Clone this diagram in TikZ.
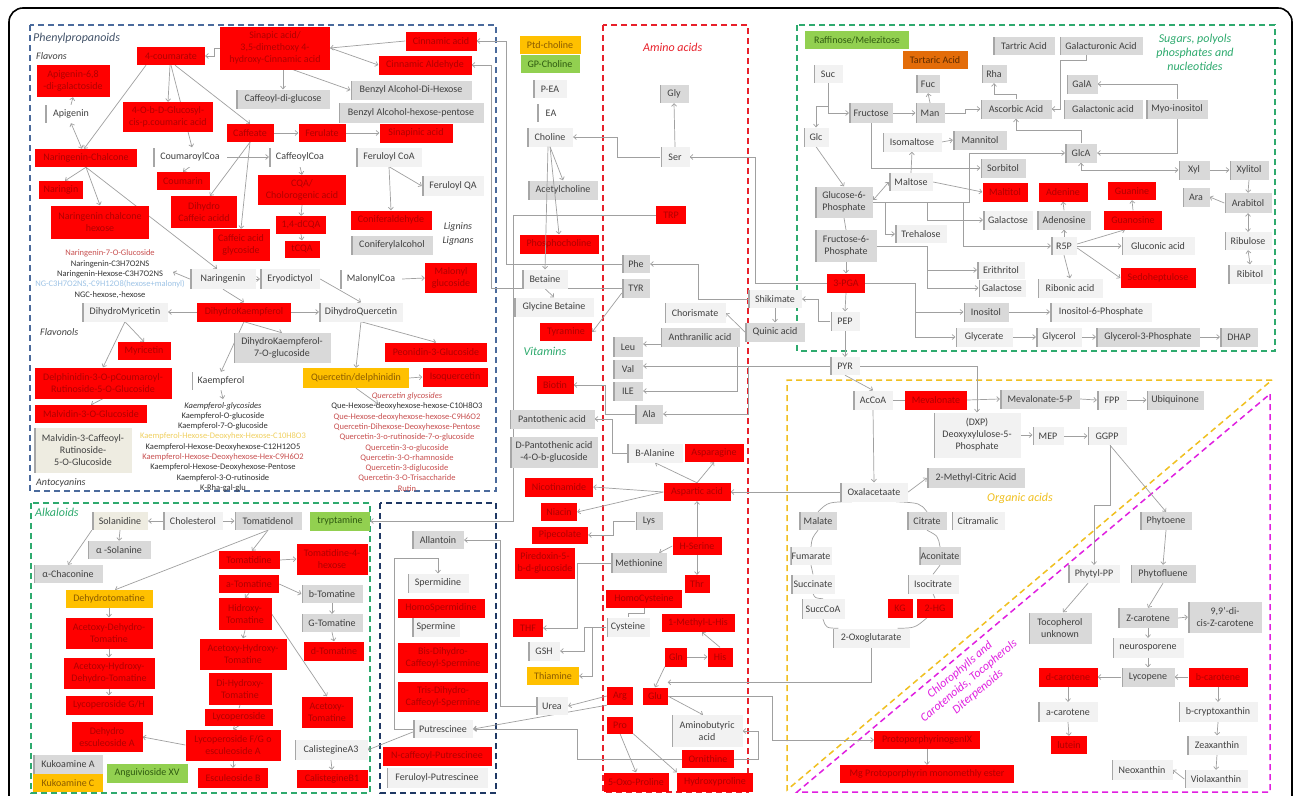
\documentclass[tikz,border=0pt]{standalone}
\usepackage{fontspec}
\setmainfont{Carlito}
\usetikzlibrary{arrows.meta}
\definecolor{cred}{HTML}{FF0000}
\definecolor{ctred}{HTML}{B00000}
\definecolor{cgray}{HTML}{D9D9D9}
\definecolor{clight}{HTML}{F2F2F2}
\definecolor{cbar}{HTML}{A6A6A6}
\definecolor{ctxt}{HTML}{404040}
\definecolor{cyel}{HTML}{FFC000}
\definecolor{ctyel}{HTML}{8A5A00}
\definecolor{cgrn}{HTML}{92D050}
\definecolor{ctgrn}{HTML}{2E5A10}
\definecolor{corg}{HTML}{E36C09}
\definecolor{ctorg}{HTML}{5A2A00}
\definecolor{cbeige}{HTML}{EEECE1}
\definecolor{cline}{HTML}{A0A0A0}
\definecolor{bphen}{HTML}{4A6A9C}
\definecolor{bnavy}{HTML}{1F3864}
\definecolor{bgreen}{HTML}{2EAA6E}
\definecolor{bredd}{HTML}{E8202A}
\definecolor{byel}{HTML}{F0C020}
\definecolor{bmag}{HTML}{E020E0}
\definecolor{lred}{HTML}{C85050}
\definecolor{lblue}{HTML}{9DC3E6}
\definecolor{lyel}{HTML}{F0D060}
\definecolor{ldark}{HTML}{333333}
\definecolor{lphen}{HTML}{44546A}
\pgfdeclarelayer{bg}
\pgfsetlayers{bg,main}
\newcommand{\nf}{\fontsize{10}{12}\selectfont}
\newcommand{\lf}{\fontsize{8.5}{10.3}\selectfont}
\newcommand{\secfont}{\fontsize{12}{14}\selectfont\itshape}
\newcommand{\subfont}{\fontsize{10}{12}\selectfont\itshape}
\newcommand{\mynode}[6]{\node[#1,minimum width=#4pt,minimum height=#5pt] (#2) at (#3) {#6};}
\tikzset{
  base/.style={rectangle, inner sep=1.2pt, align=center, font=\nf},
  leftbar/.style={path picture={\fill[cbar] (path picture bounding box.south west) rectangle ([xshift=1.8pt]path picture bounding box.north west);}},
  rb/.style={base, fill=cred, text=ctred},
  gb/.style={base, fill=cgray, text=ctxt, leftbar},
  lb/.style={base, fill=clight, text=ctxt, leftbar},
  wb/.style={base, fill=white, text=ctxt, leftbar},
  yb/.style={base, fill=cyel, text=ctyel},
  grb/.style={base, fill=cgrn, text=ctgrn},
  ob/.style={base, fill=corg, text=ctorg},
  bb/.style={base, fill=cbeige, text=ctxt, leftbar},
  arr/.style={draw=cline, line width=0.7pt, -{Straight Barb[length=2.6pt,width=5pt]}},
  darr/.style={draw=cline, line width=0.7pt, {Straight Barb[length=2.6pt,width=5pt]}-{Straight Barb[length=2.6pt,width=5pt]}},
  ln/.style={draw=cline, line width=0.7pt},
  dbox/.style={dash pattern=on 6pt off 4pt, line width=1.5pt},
  lab/.style={inner sep=0pt},
}
\begin{document}
\begin{tikzpicture}[x=1pt,y=-1pt]
\useasboundingbox (0,0) rectangle (1295,795);
\clip (0,0) rectangle (1295,795);
\draw[line width=1.6pt, rounded corners=14pt] (9,8) rectangle (1292,820);

% ---------- Phenylpropanoids ----------
\mynode{rb}{coum}{171,56}{68}{18}{4-coumarate}
\mynode{rb}{sinap}{275,48}{110}{43}{Sinapic acid/\\3,5-dimethoxy 4-\\hydroxy-Cinnamic acid}
\mynode{rb}{apig68}{73,81}{73}{32}{Apigenin-6,8\\-di-galactoside}
\mynode{wb}{apig}{71,114}{52}{18}{Apigenin}
\mynode{gb}{cdg}{283,99}{94}{19}{Caffeoyl-di-glucose}
\mynode{rb}{glucosyl}{168,117}{90}{30}{4-O-b-D-Glucosyl-\\cis-p.coumaric acid}
\mynode{rb}{caffeate}{250,133}{47}{18}{Caffeate}
\mynode{rb}{ferulate}{322,133}{47}{18}{Ferulate}
\mynode{rb}{narchal}{86,158}{102}{18}{Naringenin-Chalcone}
\mynode{wb}{coumcoa}{190,157}{74}{19}{CoumaroylCoa}
\mynode{wb}{caffcoa}{300,157}{62}{19}{CaffeoylCoa}
\mynode{rb}{coumarin}{183,181}{53}{18}{Coumarin}
\mynode{rb}{naringin}{61,190}{44}{18}{Naringin}
\mynode{rb}{cqa}{302,190}{88}{30}{CQA/\\Cholorogenic acid}
\mynode{rb}{dihcaf}{204,212}{66}{32}{Dihydro\\Caffeic acidd}
\mynode{rb}{narchalhex}{100,222}{98}{33}{Naringenin chalcone\\hexose}
\mynode{rb}{dcqa}{301,225}{50}{18}{1,4-dCQA}
\mynode{rb}{cafgly}{241,245}{57}{32}{Caffeic acid\\glycoside}
\mynode{rb}{tcqa}{302,249}{35}{17}{tCQA}
\mynode{rb}{cinacid}{441,41}{71}{19}{Cinnamic acid}
\mynode{rb}{cinald}{425,65}{93}{19}{Cinnamic Aldehyde}
\mynode{gb}{benzdh}{411,90}{121}{19}{Benzyl Alcohol-Di-Hexose}
\mynode{gb}{benzhp}{411,113}{145}{20}{Benzyl Alcohol-hexose-pentose}
\mynode{rb}{sinapinic}{416,133}{73}{19}{Sinapinic acid}
\mynode{lb}{ferucoa}{389,157}{66}{19}{Feruloyl CoA}
\mynode{lb}{feruqa}{453,186}{62}{20}{Feruloyl QA}
\mynode{rb}{conald}{391,220}{81}{19}{Coniferaldehyde}
\mynode{gb}{conalc}{392,245}{82}{19}{Coniferylalcohol}
\mynode{lb}{naringenin}{223,279}{66}{20}{Naringenin}
\mynode{lb}{eryo}{290,279}{60}{20}{Eryodictyol}
\mynode{wb}{malcoa}{371,279}{62}{19}{MalonylCoa}
\mynode{rb}{malglu}{451,278}{52}{30}{Malonyl\\glucoside}
\mynode{lb}{dhmyr}{125,312}{86}{19}{DihydroMyricetin}
\mynode{rb}{dhkae}{244,312}{94}{19}{DihydroKaempferol}
\mynode{lb}{dhque}{361,312}{84}{19}{DihydroQuercetin}
\mynode{rb}{myric}{144,351}{53}{18}{Myricetin}
\mynode{gb}{dhkae7}{282,348}{97}{30}{DihydroKaempferol-\\7-O-glucoside}
\mynode{rb}{peon}{436,352}{102}{19}{Peonidin-3-Glucoside}
\mynode{rb}{delph}{103,383}{137}{31}{Delphinidin-3-O-pCoumaroyl-\\Rutinoside-5-O-Glucoside}
\mynode{wb}{kaemp}{221,381}{59}{18}{Kaempferol}
\mynode{yb}{querc}{356,378}{106}{20}{Quercetin/delphinidin}
\mynode{rb}{isoq}{455,377}{65}{19}{Isoquercetin}
\mynode{rb}{malv}{91,414}{112}{18}{Malvidin-3-O-Glucoside}
\mynode{bb}{malvcaf}{83,450}{98}{45}{Malvidin-3-Caffeoyl-\\Rutinoside-\\5-O-Glucoside}

\node[font=\lf, align=center, text=ldark] (narlist) at (110,274) {{\color{lred}Naringenin-7-O-Glucoside}\\Naringenin-C3H7O2NS\\Naringenin-Hexose-C3H7O2NS\\{\color{lblue}NG-C3H7O2NS,-C9H12O8(hexose+malonyl)}\\NGC-hexose,-hexose};
\node[font=\lf, align=center, text=ldark] (kaelist) at (223,447) {\textit{Kaempferol-glycosides}\\Kaempferol-O-glucoside\\Kaempferol-7-O-glucoside\\{\color{lyel}Kaempferol-Hexose-Deoxyhex-Hexose-C10H8O3}\\Kaempferol-Hexose-Deoxyhexose-C12H12O5\\{\color{lred}Kaempferol-Hexose-Deoxyhexose-Hex-C9H6O2}\\Kaempferol-Hexose-Deoxyhexose-Pentose\\Kaempferol-3-O-rutinoside\\K-Rha-gal-glu};
\node[font=\lf, align=center, text=lred] (quelist) at (407,442) {\textit{Quercetin glycosides}\\{\color{ldark}Que-Hexose-deoxyhexose-hexose-C10H8O3}\\Que-Hexose-deoxyhexose-hexose-C9H6O2\\Quercetin-Dihexose-Deoxyhexose-Pentose\\Quercetin-3-o-rutinoside-7-o-glucoside\\Quercetin-3-o-glucoside\\Quercetin-3-O-rhamnoside\\Quercetin-3-diglucoside\\Quercetin-3-O-Trisaccharide\\Rutin};
\coordinate (narlistend) at (173,272);
\coordinate (kaemplist) at (223,399);
\coordinate (querclist) at (378,404);

% ---------- centre column ----------
\mynode{yb}{ptd}{550,45}{61}{18}{Ptd-choline}
\mynode{grb}{gpch}{550,64}{59}{18}{GP-Choline}
\mynode{lb}{pea}{550,89}{34}{18}{P-EA}
\mynode{wb}{ea}{551,113}{28}{18}{EA}
\mynode{lb}{choline}{550,137}{46}{19}{Choline}
\mynode{gb}{acetch}{563,190}{70}{19}{Acetylcholine}
\mynode{rb}{phosch}{559,244}{79}{19}{Phosphocholine}
\mynode{gb}{phe}{636,264}{28}{18}{Phe}
\mynode{lb}{betaine}{545,279}{46}{19}{Betaine}
\mynode{gb}{tyr}{636,288}{28}{19}{TYR}
\mynode{lb}{glybet}{554,307}{80}{19}{Glycine Betaine}
\mynode{rb}{tyramine}{566,332}{52}{18}{Tyramine}
\mynode{rb}{biotin}{555,385}{37}{18}{Biotin}
\mynode{gb}{panto}{552,419}{85}{19}{Pantothenic acid}
\mynode{gb}{dpanto}{554,452}{88}{31}{D-Pantothenic acid\\-4-O-b-glucoside}
\mynode{rb}{nicot}{559,487}{68}{19}{Nicotinamide}
\mynode{rb}{niacin}{559,512}{36}{18}{Niacin}
\mynode{rb}{pipec}{560,535}{56}{17}{Pipecolate}
\mynode{rb}{pired}{545,563}{60}{31}{Piredoxin-5-\\b-d-glucoside}
\mynode{rb}{thf}{528,628}{30}{18}{THF}
\mynode{lb}{gsh}{544,651}{32}{19}{GSH}
\mynode{yb}{thiam}{553,676}{52}{18}{Thiamine}
\mynode{lb}{urea}{552,706}{32}{18}{Urea}

% ---------- amino acids ----------
\mynode{gb}{gly}{674,94}{29}{18}{Gly}
\mynode{lb}{ser}{675,157}{29}{20}{Ser}
\mynode{rb}{trp}{671,215}{30}{18}{TRP}
\mynode{gb}{leu}{628,347}{30}{20}{Leu}
\mynode{gb}{val}{628,369}{30}{19}{Val}
\mynode{gb}{ile}{628,391}{30}{19}{ILE}
\mynode{gb}{ala}{649,414}{28}{19}{Ala}
\mynode{lb}{balan}{655,453}{56}{19}{B-Alanine}
\mynode{rb}{aspar}{714,453}{59}{18}{Asparagine}
\mynode{rb}{aspac}{697,492}{67}{18}{Aspartic acid}
\mynode{gb}{lys}{649,521}{27}{18}{Lys}
\mynode{rb}{hser}{697,546}{49}{18}{H-Serine}
\mynode{gb}{meth}{639,563}{56}{20}{Methionine}
\mynode{rb}{thr}{697,584}{25}{18}{Thr}
\mynode{rb}{homocys}{644,599}{76}{18}{HomoCysteine}
\mynode{lb}{cys}{628,627}{43}{19}{Cysteine}
\mynode{rb}{mhis}{698,623}{73}{18}{1-Methyl-L-His}
\mynode{rb}{gln}{676,657}{22}{19}{Gln}
\mynode{rb}{his}{720,657}{25}{19}{His}
\mynode{rb}{glu}{655,696}{25}{17}{Glu}
\mynode{rb}{arg}{620,696}{26}{18}{Arg}
\mynode{rb}{pro}{620,725}{26}{17}{Pro}
\mynode{lb}{gaba}{707,731}{71}{32}{Aminobutyric\\acid}
\mynode{rb}{orn}{708,759}{52}{18}{Ornithine}
\mynode{rb}{oxopro}{636,782}{65}{19}{5-Oxo-Proline}
\mynode{rb}{hypro}{715,782}{76}{19}{Hydroxyproline}

% ---------- shikimate / glycolysis ----------
\mynode{lb}{shik}{775,299}{54}{18}{Shikimate}
\mynode{lb}{chor}{695,313}{61}{20}{Chorismate}
\mynode{gb}{quinic}{775,332}{60}{19}{Quinic acid}
\mynode{gb}{anthr}{700,337}{79}{19}{Anthranilic acid}
\mynode{rb}{pga}{846,283}{38}{19}{3-PGA}
\mynode{lb}{pep}{845,321}{29}{19}{PEP}
\mynode{lb}{pyr}{845,366}{30}{18}{PYR}

% ---------- sugars ----------
\mynode{grb}{raff}{857,40}{104}{18}{Raffinose/Melezitose}
\mynode{ob}{tartaric}{935,60}{65}{18}{Tartaric Acid}
\mynode{lb}{suc}{828,74}{29}{18}{Suc}
\mynode{gb}{fuc}{928,84}{24}{18}{Fuc}
\mynode{gb}{fructose}{871,113}{44}{20}{Fructose}
\mynode{gb}{man}{930,113}{29}{20}{Man}
\mynode{lb}{glc}{816,137}{25}{19}{Glc}
\mynode{lb}{isomalt}{912,142}{59}{19}{Isomaltose}
\mynode{gb}{mannitol}{980,140}{54}{19}{Mannitol}
\mynode{lb}{maltose}{911,182}{44}{18}{Maltose}
\mynode{gb}{g6p}{844,202}{58}{31}{Glucose-6-\\Phosphate}
\mynode{lb}{trehal}{921,234}{52}{18}{Trehalose}
\mynode{gb}{f6p}{846,246}{62}{32}{Fructose-6-\\Phosphate}
\mynode{gb}{tartric}{1024,46}{62}{18}{Tartric Acid}
\mynode{gb}{galacturonic}{1101,46}{83}{18}{Galacturonic Acid}
\mynode{gb}{rha}{994,74}{25}{18}{Rha}
\mynode{gb}{gala}{1082,84}{31}{19}{GalA}
\mynode{gb}{ascorbic}{1016,109}{71}{19}{Ascorbic Acid}
\mynode{gb}{galactonic}{1103,109}{79}{19}{Galactonic acid}
\mynode{gb}{myo}{1177,109}{62}{19}{Myo-inositol}
\mynode{gb}{glca}{1081,153}{32}{19}{GlcA}
\mynode{gb}{sorbitol}{1003,168}{45}{19}{Sorbitol}
\mynode{gb}{xyl}{1194,170}{31}{19}{Xyl}
\mynode{gb}{xylitol}{1249,170}{39}{19}{Xylitol}
\mynode{rb}{maltitol}{1005,192}{45}{19}{Maltitol}
\mynode{rb}{adenine}{1063,192}{49}{19}{Adenine}
\mynode{rb}{guanine}{1132,191}{48}{18}{Guanine}
\mynode{gb}{ara}{1196,197}{27}{19}{Ara}
\mynode{gb}{arabitol}{1248,203}{47}{20}{Arabitol}
\mynode{lb}{galactose1}{1008,220}{50}{19}{Galactose}
\mynode{gb}{adenosine}{1064,220}{54}{19}{Adenosine}
\mynode{rb}{guanosine}{1133,220}{58}{19}{Guanosine}
\mynode{lb}{ribulose}{1248,241}{47}{18}{Ribulose}
\mynode{lb}{r5p}{1064,246}{26}{18}{R5P}
\mynode{lb}{gluconic}{1158,246}{73}{18}{Gluconic acid}
\mynode{lb}{erith}{1001,270}{48}{17}{Erithritol}
\mynode{rb}{sedo}{1158,278}{75}{20}{Sedoheptulose}
\mynode{lb}{ribitol}{1250,274}{44}{19}{Ribitol}
\mynode{lb}{galactose2}{1002,288}{47}{17}{Galactose}
\mynode{lb}{ribonic}{1070,288}{65}{19}{Ribonic acid}
\mynode{gb}{inositol}{986,312}{45}{19}{Inositol}
\mynode{lb}{ino6p}{1101,312}{102}{19}{Inositol-6-Phosphate}
\mynode{lb}{glycerate}{984,337}{57}{19}{Glycerate}
\mynode{lb}{glycerol}{1059,337}{46}{19}{Glycerol}
\mynode{gb}{g3p}{1148,337}{104}{19}{Glycerol-3-Phosphate}
\mynode{gb}{dhap}{1239,337}{38}{19}{DHAP}

% ---------- organic acids / terpenoids ----------
\mynode{lb}{accoa}{873,400}{40}{19}{AcCoA}
\mynode{rb}{meval}{936,400}{62}{19}{Mevalonate}
\mynode{gb}{meval5p}{1040,399}{80}{19}{Mevalonate-5-P}
\mynode{lb}{fpp}{1112,400}{30}{19}{FPP}
\mynode{gb}{ubiq}{1175,400}{57}{19}{Ubiquinone}
\mynode{lb}{dxp}{977,435}{87}{45}{(DXP)\\Deoxyxylulose-5-\\Phosphate}
\mynode{lb}{mep}{1048,436}{31}{18}{MEP}
\mynode{lb}{ggpp}{1107,436}{39}{18}{GGPP}
\mynode{gb}{mca}{976,478}{98}{20}{2-Methyl-Citric Acid}
\mynode{lb}{oxal}{874,492}{68}{19}{Oxalacetaate}
\mynode{gb}{malate}{818,521}{38}{18}{Malate}
\mynode{gb}{citrate}{927,521}{40}{18}{Citrate}
\mynode{lb}{citram}{978,521}{53}{18}{Citramalic}
\mynode{gb}{phytoene}{1166,521}{52}{18}{Phytoene}
\mynode{lb}{fumarate}{811,556}{39}{18}{Fumarate}
\mynode{gb}{aconitate}{940,556}{39}{18}{Aconitate}
\mynode{lb}{succinate}{813,584}{44}{19}{Succinate}
\mynode{lb}{isocit}{933,584}{51}{19}{Isocitrate}
\mynode{lb}{succcoa}{823,609}{43}{20}{SuccCoA}
\mynode{rb}{kg}{900,608}{25}{19}{KG}
\mynode{rb}{hg}{935,608}{36}{19}{2-HG}
\mynode{lb}{oxo}{871,638}{77}{19}{2-Oxoglutarate}
\mynode{lb}{phytylpp}{1094,574}{52}{18}{Phytyl-PP}
\mynode{gb}{phytofl}{1163,574}{65}{18}{Phytofluene}
\mynode{gb}{toco}{1060,628}{63}{31}{Tocopherol\\unknown}
\mynode{gb}{zcar}{1148,618}{60}{20}{Z-carotene}
\mynode{gb}{dicis}{1225,617}{74}{31}{9,9’-di-\\cis-Z-carotene}
\mynode{lb}{neuro}{1148,648}{71}{20}{neurosporene}
\mynode{rb}{dcar}{1068,677}{59}{19}{d-carotene}
\mynode{gb}{lycop}{1148,677}{53}{19}{Lycopene}
\mynode{rb}{bcar}{1218,677}{59}{19}{b-carotene}
\mynode{lb}{acar}{1068,712}{60}{20}{a-carotene}
\mynode{lb}{bcrypt}{1218,712}{79}{20}{b-cryptoxanthin}
\mynode{rb}{lutein}{1069,745}{36}{18}{lutein}
\mynode{lb}{zeax}{1217,745}{60}{19}{Zeaxanthin}
\mynode{lb}{neox}{1142,770}{61}{20}{Neoxanthin}
\mynode{lb}{violax}{1216,779}{63}{18}{Violaxanthin}
\mynode{rb}{protox}{927,740}{106}{18}{ProtoporphyrinogenIX}
\mynode{rb}{mgproto}{927,774}{174}{18}{Mg Protoporphyrin monomethly ester}

% ---------- alkaloids ----------
\mynode{bb}{solan}{120,521}{56}{18}{Solanidine}
\mynode{lb}{chol}{193,521}{60}{18}{Cholesterol}
\mynode{gb}{tomdnol}{268,521}{67}{18}{Tomatidenol}
\mynode{grb}{tryp}{340,521}{60}{19}{tryptamine}
\mynode{gb}{asolan}{119,550}{63}{18}{α -Solanine}
\mynode{gb}{achac}{68,574}{69}{18}{α-Chaconine}
\mynode{rb}{tomdine}{249,560}{61}{18}{Tomatidine}
\mynode{rb}{tom4h}{332,559}{71}{31}{Tomatidine-4-\\hexose}
\mynode{rb}{atom}{249,584}{60}{18}{a-Tomatine}
\mynode{gb}{btom}{332,594}{61}{18}{b-Tomatine}
\mynode{yb}{dehtom}{109,599}{87}{18}{Dehydrotomatine}
\mynode{rb}{hidtom}{245,614}{53}{32}{Hidroxy-\\Tomatine}
\mynode{gb}{gtom}{332,623}{61}{18}{G-Tomatine}
\mynode{rb}{acdeh}{109,633}{87}{31}{Acetoxy-Dehydro-\\Tomatine}
\mynode{rb}{achyd}{243,654}{87}{31}{Acetoxy-Hydroxy-\\Tomatine}
\mynode{rb}{dtom}{334,651}{60}{19}{d-Tomatine}
\mynode{rb}{achydeh}{109,673}{91}{31}{Acetoxy-Hydroxy-\\Dehydro-Tomatine}
\mynode{rb}{dihyd}{240,689}{63}{32}{Di-Hydroxy-\\Tomatine}
\mynode{rb}{lycgh}{109,705}{87}{19}{Lycoperoside G/H}
\mynode{rb}{actom}{327,712}{51}{31}{Acetoxy-\\Tomatine}
\mynode{rb}{lycop2}{239,717}{68}{17}{Lycoperoside}
\mynode{rb}{dehesc}{107,737}{71}{30}{Dehydro\\esculeoside A}
\mynode{rb}{lycfg}{233,745}{95}{31}{Lycoperoside F/G o\\esculeoside A}
\mynode{lb}{cala3}{331,750}{73}{20}{CalistegineA3}
\mynode{gb}{kukA}{68,764}{70}{19}{Kukoamine A}
\mynode{grb}{angui}{147,773}{81}{19}{Anguivioside XV}
\mynode{rb}{escB}{233,778}{70}{20}{Esculeoside B}
\mynode{rb}{calb1}{332,779}{71}{18}{CalistegineB1}
\mynode{yb}{kukC}{68,783}{70}{18}{Kukoamine C}

% ---------- polyamines ----------
\mynode{gb}{allan}{438,540}{52}{18}{Allantoin}
\mynode{lb}{spermd}{438,583}{61}{19}{Spermidine}
\mynode{rb}{homosp}{441,608}{87}{19}{HomoSpermidine}
\mynode{lb}{spermn}{436,627}{48}{19}{Spermine}
\mynode{rb}{bisdh}{443,658}{90}{30}{Bis-Dihydro-\\Caffeoyl-Spermine}
\mynode{rb}{trisdh}{443,697}{90}{30}{Tris-Dihydro-\\Caffeoyl-Spermine}
\mynode{lb}{putr}{443,729}{60}{18}{Putrescinee}
\mynode{rb}{ncaff}{437,756}{109}{19}{N-caffeoyl-Putrescinee}
\mynode{lb}{ferput}{437,778}{101}{20}{Feruloyl-Putrescinee}

% ---------- section labels ----------
\node[lab, text=lphen, font=\secfont, anchor=west] (tphen) at (33,38) {Phenylpropanoids};
\node[lab, text=ctxt, font=\subfont, anchor=west] (tflavons) at (36,56) {Flavons};
\node[lab, text=ctxt, font=\subfont, anchor=west] (tflavonols) at (40,332) {Flavonols};
\node[lab, text=ctxt, font=\subfont, anchor=west] (tanto) at (36,483) {Antocyanins};
\node[lab, text=ctxt, font=\subfont] (tlignins) at (458,227) {Lignins};
\node[lab, text=ctxt, font=\subfont] (tlignans) at (458,241) {Lignans};
\node[lab, text=bredd, font=\secfont, anchor=west] (tamino) at (643,47) {Amino acids};
\node[lab, text=bgreen, font=\secfont] (tvit) at (545,351) {Vitamins};
\node[lab, text=bgreen, font=\secfont, align=center] (tsugars) at (1195,52) {Sugars, polyols\\phosphates and\\nucleotides};
\node[lab, text=bgreen, font=\secfont, anchor=west] (talk) at (35,512) {Alkaloids};
\node[lab, text=byel, font=\secfont] (torg) at (1020,498) {Organic acids};
\node[lab, text=bmag, font=\secfont, align=center, rotate=40] (tchl) at (969,681) {Chlorophylls and\\Carotenoids, Tocopherols\\Diterpenoids};

\begin{pgfonlayer}{bg}
\fill[white] (0,0) rectangle (1295,795);
\draw[dbox, draw=bphen] (30,25) rectangle (496,491);
\draw[dbox, draw=bgreen] (31,503) rectangle (370,793);
\draw[dbox, draw=bnavy] (380,503) rectangle (496,793);
\draw[dbox, draw=bredd] (603,25) rectangle (748,792);
\draw[dbox, draw=bgreen] (797,25) rectangle (1275,351);
\draw[dbox, draw=byel] (1272,380) -- (787,380) -- (787,790) -- cycle;
\draw[dbox, draw=bmag] (1270,394) -- (1270,792) -- (797,792) -- cycle;

% phenylpropanoids
\draw[arr] (sinap.west) -- ++(-5,0) |- (coum.east);
\draw[arr] (sinap.south -| cdg.north) -- (cdg.north);
\draw[arr] ([xshift=18pt]sinap.south) -- (benzdh.west);
\draw[arr] (cinacid.west) -- (sinap.east);
\draw[arr] (sinap.east) -- (cinald.west);
\draw[arr] (phe.west) -- (506,264) |- (cinacid.east);
\draw[arr] (tyr.west) -- (491,288) |- (cinald.east);
\draw[arr] (trp.west) -- (513,215) |- (tryp.east);
\draw[arr] ([xshift=-25pt]coum.south) -- ([xshift=-2pt]narchal.north);
\draw[arr] ([xshift=-1pt]coum.south) -- (glucosyl.north);
\draw[arr] (coum.south) -- ([xshift=2pt]coumcoa.north);
\draw[arr] ([xshift=4pt]coum.south) -- (caffeate.north);
\draw[darr] ([xshift=-4pt]narchal.north) -- (apig.south);
\draw[arr] (apig.north) -- (apig68.south);
\draw[arr] (narchal.south) -- ([xshift=4pt]naringin.north);
\draw[arr] (narchal.south) -- (narchalhex.north);
\draw[arr] (narchal.south) -- ([xshift=-6pt]naringenin.north);
\draw[arr] (caffeate.east) -- (ferulate.west);
\draw[arr] (ferulate.east) -- (sinapinic.west);
\draw[arr] (caffeate.south) -- ([xshift=6pt]dihcaf.north);
\draw[arr] (caffeate.south) -- (cafgly.north);
\draw[arr] (coumcoa.south) -- (coumarin.north);
\draw[arr] (coumcoa.east) -- (caffcoa.west);
\draw[arr] (caffcoa.south) -- (cqa.north);
\draw[arr] (cqa.south) -- (dcqa.north);
\draw[arr] (dcqa.south) -- (tcqa.north);
\draw[arr] (ferucoa.south) -- (feruqa.west);
\draw[arr] (ferucoa.south) -- (conald.north);
\draw[arr] (malcoa.east) -- (malglu.west);
\draw[arr] (naringenin.east) -- (eryo.west);
\draw[arr] (eryo.east) -- (dhque.north);
\draw[arr] (naringenin.south) -- (dhkae.north);
\draw[arr] (naringenin.west) -- (narlistend);
\draw[arr] (dhkae.west) -- (dhmyr.east);
\draw[arr] (dhkae.east) -- (dhque.west);
\draw[arr] (dhkae.south) -- (dhkae7.north);
\draw[arr] (dhkae.south) -- (kaemp.north);
\draw[arr] (kaemp.south) -- (kaemplist);
\draw[arr] (dhmyr.south) -- (myric.north);
\draw[arr] (dhmyr.south) -- (delph.north);
\draw[arr] (delph.south) -- (malv.north);
\draw[arr] (dhque.south) -- (peon.north);
\draw[arr] (dhque.south) -- (querc.north);
\draw[arr] (querc.east) -- (isoq.west);
\draw[arr] (querc.south) -- (querclist);

% centre and amino acids
\draw[arr] (ser.west) -- (617,157) |- (choline.east);
\draw[arr] (choline.south) -- (acetch.north);
\draw[arr] (betaine.south) -- (glybet.north);
\draw[arr] ([yshift=-5pt]tyr.west) -- (tyramine.east);
\draw[arr] (ser.north) -- (gly.south);
\draw[arr] (pga.west) -- (755,283) |- (ser.east);
\draw[arr] (shik.west) -- (698,299) |- (phe.east);
\draw[arr] (quinic.west) -- (chor.east);
\draw[arr] (shik.south) -- (quinic.north);
\draw[arr] (pep.west) -- (818,321) |- (shik.east);
\draw[arr] (pga.south) -- (pep.north);
\draw[arr] (pep.south) -- (pyr.north);
\draw[arr] (f6p.south) -- (pga.north);
\draw[arr] (pga.east) -- (915,283) |- (inositol.west);
\draw[arr] (pga.east) -- (915,283) |- (glycerate.west);
\draw[arr] (pyr.west) -- (pyr.west -| val.east);
\draw[arr] (pyr.west) -- (737,366) |- (ile.east);
\draw[arr] (pyr.west) -- (737,366) |- ([yshift=3pt]leu.east);
\draw[arr] (pyr.west) -- (748,366) |- (ala.east);
\draw[arr] (ala.west) -- (605,414) |- (biotin.east);
\draw[arr] (balan.west) -- (612,453) |- (panto.east);
\draw[arr] (oxal.west) -- (aspac.east);
\draw[arr] (hser.north) -- (aspac.south);
\draw[arr] (aspac.north) -- (aspar.south);
\draw[arr] (aspac.north) -- (balan.south);
\draw[arr] (aspac.west) -- (nicot.east);
\draw[arr] (aspac.west) -- (niacin.east);
\draw[arr] (lys.west) -- (613,521) |- (pipec.east);
\draw[arr] (hser.west) -- ([xshift=-8pt]meth.north east);
\draw[arr] (hser.south) -- (thr.north);
\draw[arr] (meth.west) -- (577,563) |- (thf.east);
\draw[ln] (homocys.south) -- ++(0,5) -| (cys.north);
\draw[arr] (cys.west) -- ++(-22,0) |- (gsh.east);
\draw[arr] (cys.west) -- ++(-14,0) |- (thiam.east);
\draw[arr] (his.north) -- ([xshift=4pt]mhis.south);
\draw[arr] (gln.east) -- (his.west);
\draw[arr] (gln.south west) -- (glu.north);
\draw[arr] (oxo.south) |- ([yshift=5pt]glu.north east);
\draw[arr] (glu.east) -- ([xshift=-4pt]gaba.north);
\draw[arr] (glu.east) -- (772,696) |- (protox.west);
\draw[arr] (protox.south) -- (mgproto.north);
\draw[arr] (orn.east) -- (758,759) |- (gaba.east);
\draw[arr] (orn.west) -- (577,759) |- (putr.east);
\draw[arr] (arg.west) -- (urea.east);
\draw[arr] (arg.south west) -- (putr.east);
\draw[arr] (urea.west) -- (500,706) |- (allan.east);
\draw[arr] (putr.west) -- (394,729) -- (394,558) -- (438,558) -- (spermd.north);
\draw[arr] ([yshift=-3pt]putr.west) -- (cala3.east);
\draw[arr] (cala3.south) -- (calb1.north);
\draw[arr] (pro.south) -- (oxopro.north);
\draw[arr] (pro.south east) -- (hypro.north west);

% sugars
\draw[arr] (suc.south) |- (fructose.west);
\draw[arr] (suc.south) -- (828,106) -| (glc.north);
\draw[arr] (fructose.east) -- (man.west);
\draw[arr] (man.north) -- (fuc.south);
\draw[arr] (man.east) -- (965,113) |- (ascorbic.west);
\draw[arr] (fructose.south) |- (sorbitol.west);
\draw[arr] (glc.south) -- (g6p.north);
\draw[darr] ([yshift=2pt]g6p.east) -- (maltose.west);
\draw[ln] (g6p.south) -- (f6p.north);
\draw[arr] (maltose.north) -- (isomalt.south);
\draw[arr] (isomalt.east) -- (mannitol.west);
\draw[arr] (maltose.east) -- (maltitol.west);
\draw[arr] (g6p.east) -- (969,202) |- (glca.west);
\draw[arr] (g6p.east) -- (885,202) |- (trehal.west);
\draw[arr] (g6p.east) -- (927,202) |- (galactose1.west);
\draw[arr] (g6p.east) -- (963,202) |- (r5p.west);
\draw[arr] (f6p.east) -- (927,246) |- (erith.west);
\draw[arr] (f6p.east) -- (927,246) |- (galactose2.west);
\draw[arr] (adenosine.north) -- (adenine.south);
\draw[arr] (r5p.north) -- (adenosine.south);
\draw[arr] ([yshift=2pt]r5p.east) -- ([xshift=-8pt]guanosine.south);
\draw[arr] (guanosine.north) -- (guanine.south);
\draw[arr] (r5p.east) -- (gluconic.west);
\draw[arr] ([yshift=-2pt]r5p.east) -- (sedo.west);
\draw[arr] (r5p.south) -- (ribonic.north);
\draw[arr] (glca.north) -- (1081,130) -| (ascorbic.south);
\draw[arr] (myo.north) |- (gala.east);
\draw[arr] (myo.south) |- (glca.east);
\draw[arr] ([xshift=-15pt]galacturonic.south) -- (1086,60) -- (1060,60) |- (ascorbic.east);
\draw[arr] (ascorbic.north) -- (1016,94) -| (rha.south);
\draw[darr] (glca.south) |- (xyl.west);
\draw[arr] (xyl.east) -- (xylitol.west);
\draw[arr] (xylitol.south) -- (arabitol.north);
\draw[arr] (arabitol.west) -- (ara.east);
\draw[darr] (arabitol.south) -- (ribulose.north);
\draw[darr] (ribulose.south) -- (ribitol.north);
\draw[arr] (inositol.east) -- (ino6p.west);
\draw[arr] (glycerate.east) -- (glycerol.west);
\draw[arr] (glycerol.east) -- (g3p.west);
\draw[arr] (g3p.east) -- (dhap.west);

% organic acids / terpenoids
\draw[arr] (pyr.south) -- (accoa.north);
\draw[arr] (pyr.east) -| (dxp.north);
\draw[ln] (accoa.east) -- (meval.west);
\draw[arr] (meval.east) -- (meval5p.west);
\draw[arr] (meval5p.east) -- (fpp.west);
\draw[arr] (fpp.east) -- (ubiq.west);
\draw[arr] (dxp.east) -- (dxp.east -| mep.west);
\draw[arr] (mep.east) -- (ggpp.west);
\draw[arr] ([xshift=3pt]ggpp.south) -- (phytoene.north);
\draw[arr] ([xshift=3pt]ggpp.south) |- (1094,505) -- (phytylpp.north);
\draw[arr] ([xshift=-6pt]phytylpp.south) -- ([xshift=3pt]toco.north);
\draw[arr] (phytoene.south) -- (phytofl.north);
\draw[arr] (phytofl.south) -- (zcar.north);
\draw[arr] (zcar.east) -- (dicis.west);
\draw[arr] (zcar.south) -- (neuro.north);
\draw[arr] (neuro.south) -- (lycop.north);
\draw[arr] (lycop.west) -- (dcar.east);
\draw[arr] (bcar.west) -- (lycop.east);
\draw[arr] (dcar.south) -- (acar.north);
\draw[arr] (acar.south) -- (lutein.north);
\draw[arr] (bcar.south) -- (bcrypt.north);
\draw[arr] (bcrypt.south) -- (zeax.north);
\draw[arr] (zeax.south) -- (violax.north);
\draw[arr] (violax.west) -- (neox.east);
\draw[arr] (accoa.south) -- (oxal.north);
\draw[arr] (oxal.east) -- (mca.west);
\draw[ln] ([xshift=12pt]oxal.south west) .. controls (828,502) .. (malate.north);
\draw[ln] (malate.south) .. controls (812,538) .. (fumarate.north);
\draw[ln] (fumarate.south) -- (succinate.north);
\draw[ln] (succinate.south) .. controls (815,598) .. (succcoa.north);
\draw[ln] (succcoa.south) .. controls (826,628) .. ([xshift=6pt]oxo.north west);
\draw[ln] ([xshift=-12pt]oxo.north east) .. controls (915,628) .. ([xshift=-8pt]hg.south);
\draw[ln] (hg.north) -- (isocit.south);
\draw[ln] (isocit.north) -- (aconitate.south);
\draw[ln] (aconitate.north) .. controls (938,536) .. (citrate.south);
\draw[ln] (citrate.north) .. controls (920,503) .. ([xshift=-12pt]oxal.south east);

% alkaloids
\draw[arr] (chol.west) -- (solan.east);
\draw[arr] (chol.east) -- (tomdnol.west);
\draw[arr] (solan.south) -- (asolan.north);
\draw[arr] (solan.south west) -- (achac.north);
\draw[arr] (tomdnol.south) -- ([xshift=6pt]dehtom.north);
\draw[arr] (tomdnol.south) -- ([xshift=3pt]tomdine.north);
\draw[arr] (tomdine.east) -- (tom4h.west);
\draw[arr] (atom.east) -- (btom.west);
\draw[arr] (btom.south) -- (gtom.north);
\draw[arr] (gtom.south) -- (dtom.north);
\draw[arr] (atom.south) -- (hidtom.north);
\draw[arr] (hidtom.south) -- (achyd.north);
\draw[arr] (hidtom.east) -- (actom.north);
\draw[ln] (dihyd.south) -- (lycop2.north);
\draw[arr] (lycop2.south) -- (lycfg.north);
\draw[arr] (lycfg.west) -- (dehesc.east);
\draw[arr] (lycfg.south) -- (escB.north);
\draw[arr] (dehtom.south) -- (acdeh.north);
\draw[arr] (acdeh.south) -- (achydeh.north);
\draw[arr] (achydeh.south) -- (lycgh.north);
\end{pgfonlayer}

\draw[arr] (choline.south) -- (phosch.north);
\draw[arr] ([xshift=-2pt]choline.south) -- (betaine.north);
\end{tikzpicture}
\end{document}
